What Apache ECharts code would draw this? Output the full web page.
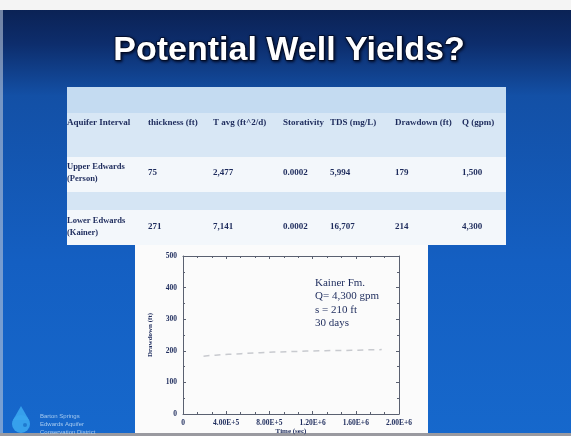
<!DOCTYPE html>
<html><head><meta charset="utf-8">
<script src="https://cdn.jsdelivr.net/npm/echarts@6/dist/echarts.min.js"></script>
<style>html,body{margin:0;padding:0;background:#1460c4;}#c{width:571px;height:436px;}</style>
</head><body><div id="c"></div>
<script>
// ---- data ----
var title = 'Potential Well Yields?';
var tableHeaders = ['Aquifer Interval', 'thickness (ft)', 'T avg (ft^2/d)', 'Storativity', 'TDS (mg/L)', 'Drawdown (ft)', 'Q (gpm)'];
var rowNames = [['Upper Edwards', '(Person)'], ['Lower Edwards', '(Kainer)']];
var thickness = ['75', '271'];
var tAvg = ['2,477', '7,141'];
var storativity = ['0.0002', '0.0002'];
var tds = ['5,994', '16,707'];
var drawdown = ['179', '214'];
var flow = ['1,500', '4,300'];
var annotation = ['Kainer Fm.', 'Q= 4,300 gpm', 's = 210 ft', '30 days'];
var timeSec = [190000, 250000, 300000, 360000, 420000, 480000, 540000, 600000, 660000, 720000, 780000, 840000, 900000, 960000, 1020000, 1080000, 1140000, 1200000, 1260000, 1320000, 1380000, 1440000, 1500000, 1560000, 1620000, 1680000, 1740000, 1800000, 1840000];
var drawdownFt = [183, 185, 186, 188, 189, 190, 191, 192, 193, 194, 195, 196, 196, 197, 198, 198, 199, 199, 200, 200, 201, 201, 201, 202, 202, 203, 203, 203, 204];
var xTickLabels = {0: '0', 400000: '4.00E+5', 800000: '8.00E+5', 1200000: '1.20E+6', 1600000: '1.60E+6', 2000000: '2.00E+6'};
var logoLines = ['Barton Springs', 'Edwards Aquifer', 'Conservation District'];

// ---- layout ----
var ink = '#1d2b5c';
var colX = [67, 148, 213, 283, 330, 395, 462];
var g = [];
g.push({type: 'rect', z: -100, shape: {x: 0, y: 0, width: 571, height: 436},
  style: {fill: {type: 'linear', x: 0, y: 0, x2: 0, y2: 1, colorStops: [
    {offset: 0, color: '#0a1f4e'}, {offset: 0.1, color: '#0d2d6c'}, {offset: 0.22, color: '#1350a6'}, {offset: 0.6, color: '#145fc2'}, {offset: 1, color: '#1668cc'}]}}});
g.push({type: 'rect', z: -99, shape: {x: 0, y: 0, width: 571, height: 10}, style: {fill: '#f4f4f4'}});
g.push({type: 'rect', z: -99, shape: {x: 0, y: 10, width: 3, height: 426}, style: {fill: '#b8c4d8', opacity: 0.6}});
g.push({type: 'rect', z: -99, shape: {x: 0, y: 433, width: 571, height: 3}, style: {fill: '#9a9aa0'}});
// table
g.push({type: 'rect', z: -90, shape: {x: 67, y: 87, width: 439, height: 158}, style: {fill: '#f3f7fb'}});
g.push({type: 'rect', z: -89, shape: {x: 67, y: 87, width: 439, height: 26}, style: {fill: '#c4dbf1'}});
g.push({type: 'rect', z: -89, shape: {x: 67, y: 113, width: 439, height: 44}, style: {fill: '#d8e7f5'}});
g.push({type: 'rect', z: -89, shape: {x: 67, y: 192, width: 439, height: 18}, style: {fill: '#d5e5f4'}});
// chart panel
g.push({type: 'rect', z: -88, shape: {x: 135, y: 245, width: 293, height: 188}, style: {fill: '#fbfbfb'}});
g.push({type: 'text', z: 10, x: 289, y: 68, style: {text: title, fill: '#ffffff', font: 'bold 34px "Liberation Sans", Arial, sans-serif', align: 'center', verticalAlign: 'bottom', stroke: '#000a24', lineWidth: 1.5, textShadowColor: '#000820', textShadowBlur: 3, textShadowOffsetX: 1, textShadowOffsetY: 1}});
var tf = 'bold 9px "Liberation Serif", serif';
tableHeaders.forEach(function (h, i) {
  g.push({type: 'text', z: 10, x: colX[i], y: 123, style: {text: h, fill: ink, font: tf, verticalAlign: 'middle'}});
});
var cols = [thickness, tAvg, storativity, tds, drawdown, flow];
var rowY = [173, 227];
rowNames.forEach(function (rn, r) {
  g.push({type: 'text', z: 10, x: 67, y: rowY[r] - 6, style: {text: rn[0], fill: ink, font: 'bold 8.5px "Liberation Serif", serif', verticalAlign: 'middle'}});
  g.push({type: 'text', z: 10, x: 67, y: rowY[r] + 6, style: {text: rn[1], fill: ink, font: 'bold 8.5px "Liberation Serif", serif', verticalAlign: 'middle'}});
  cols.forEach(function (c, i) {
    g.push({type: 'text', z: 10, x: colX[i + 1], y: rowY[r], style: {text: c[r], fill: ink, font: tf, verticalAlign: 'middle'}});
  });
});
annotation.forEach(function (t, i) {
  g.push({type: 'text', z: 10, x: 315, y: 283 + i * 13.5, style: {text: t, fill: ink, font: '11px "Liberation Serif", serif', verticalAlign: 'middle'}});
});
// logo (drop)
g.push({type: 'circle', z: 10, shape: {cx: 21, cy: 424, r: 9}, style: {fill: '#3aa6f0', opacity: 0.9}});
g.push({type: 'polygon', z: 10, shape: {points: [[13, 420], [21, 406], [29, 420]]}, style: {fill: '#3aa6f0', opacity: 0.9}});
g.push({type: 'circle', z: 11, shape: {cx: 25, cy: 425, r: 2}, style: {fill: '#1a70c8', opacity: 0.8}});
logoLines.forEach(function (t, i) {
  g.push({type: 'text', z: 10, x: 40, y: 416 + i * 8, style: {text: t, fill: '#c0dcf6', font: '6px "Liberation Sans", sans-serif', verticalAlign: 'middle', opacity: 0.85}});
});

var axisCol = '#5a6070';
var lblFont = {fontSize: 7.5, color: ink, fontWeight: 'bold', fontFamily: 'Liberation Serif'};
var chart = echarts.init(document.getElementById('c'));
chart.setOption({
  animation: false,
  graphic: {elements: g},
  grid: {left: 183, right: 172, top: 256, bottom: 22, show: false},
  xAxis: [{
    type: 'value', min: 0, max: 2000000, interval: 400000, position: 'bottom',
    name: 'Time (sec)', nameLocation: 'middle', nameGap: 13,
    nameTextStyle: {color: ink, fontSize: 7, fontWeight: 'bold', fontFamily: 'Liberation Serif'},
    axisLine: {show: true, onZero: false, lineStyle: {color: axisCol, width: 1}},
    axisTick: {inside: true, length: 3, lineStyle: {color: axisCol}},
    minorTick: {show: true, splitNumber: 3, length: 2, lineStyle: {color: axisCol}},
    axisLabel: Object.assign({margin: 5, formatter: function (v) { return xTickLabels[v] !== undefined ? xTickLabels[v] : ''; }}, lblFont),
    splitLine: {show: false}
  }, {
    type: 'value', min: 0, max: 2000000, interval: 400000, position: 'top',
    axisLine: {show: true, onZero: false, lineStyle: {color: axisCol, width: 1}},
    axisTick: {inside: true, length: 3, lineStyle: {color: axisCol}},
    minorTick: {show: true, splitNumber: 3, length: 2, lineStyle: {color: axisCol}},
    axisLabel: {show: false}, splitLine: {show: false}
  }],
  yAxis: [{
    type: 'value', min: 0, max: 500, interval: 100, position: 'left',
    name: 'Drawdown (ft)', nameLocation: 'middle', nameGap: 29,
    nameTextStyle: {color: ink, fontSize: 7, fontWeight: 'bold', fontFamily: 'Liberation Serif'},
    axisLine: {show: true, onZero: false, lineStyle: {color: axisCol, width: 1}},
    axisTick: {inside: true, length: 3, lineStyle: {color: axisCol}},
    minorTick: {show: true, splitNumber: 2, length: 2, lineStyle: {color: axisCol}},
    axisLabel: Object.assign({margin: 6}, lblFont),
    splitLine: {show: false}
  }, {
    type: 'value', min: 0, max: 500, interval: 100, position: 'right',
    axisLine: {show: true, onZero: false, lineStyle: {color: axisCol, width: 1}},
    axisTick: {inside: true, length: 3, lineStyle: {color: axisCol}},
    minorTick: {show: true, splitNumber: 2, length: 2, lineStyle: {color: axisCol}},
    axisLabel: {show: false}, splitLine: {show: false}
  }],
  series: [{
    type: 'line', xAxisIndex: 0, yAxisIndex: 0,
    data: timeSec.map(function (t, i) { return [t, drawdownFt[i]]; }),
    showSymbol: false, smooth: false,
    lineStyle: {color: '#c8cacf', width: 1.5, type: [6, 5]}
  }]
});
</script></body></html>
